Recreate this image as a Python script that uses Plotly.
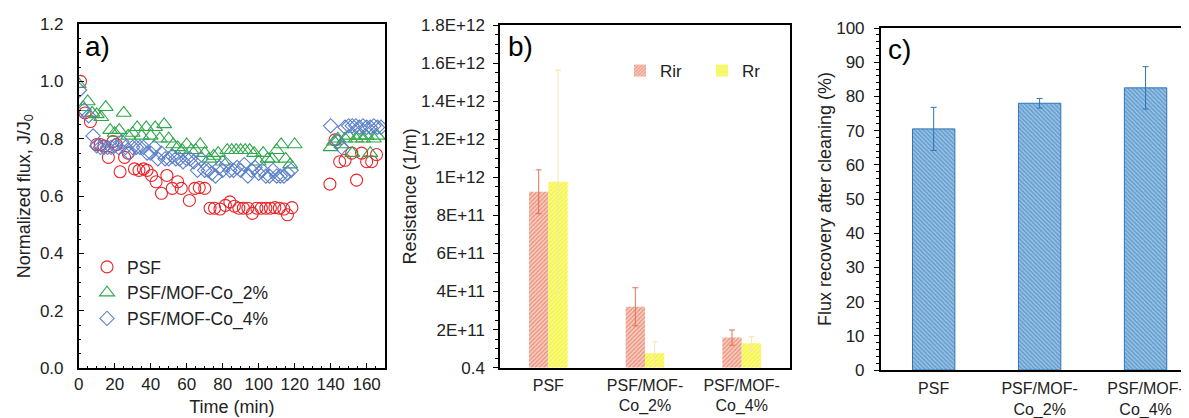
import plotly.graph_objects as go

# ---------------- Panel a data ----------------
psf_t = [1, 3.5, 6.5, 10, 12, 14, 16.5, 19, 21, 23, 25.5, 27.5, 31, 33.5, 36, 38, 40.5, 43, 46, 49, 52, 55, 57,
         61.5, 64.5, 67, 70, 73, 75.5, 78.5, 81.5, 84, 86.5, 89, 91.5, 94, 96.5, 99, 101.5, 104, 106.5, 109, 111.5,
         114, 116, 118.5,
         139.6, 142.4, 145, 148, 151.7, 154.4, 157.2, 160, 162.8, 165.5]
psf_v = [1.00, 0.89, 0.86, 0.78, 0.78, 0.775, 0.735, 0.79, 0.78, 0.685, 0.735, 0.75, 0.695, 0.69, 0.695, 0.69,
         0.672, 0.65, 0.61, 0.672, 0.627, 0.65, 0.627, 0.585, 0.627, 0.63, 0.627, 0.558, 0.558, 0.555, 0.568,
         0.58, 0.565, 0.558, 0.558, 0.558, 0.54, 0.558, 0.558, 0.558, 0.558, 0.56, 0.558, 0.555, 0.535, 0.56,
         0.642, 0.796, 0.72, 0.725, 0.75, 0.656, 0.75, 0.72, 0.72, 0.745]

co2_t = [0, 2.5, 5, 7.5, 10, 12.5, 15, 17.5, 20, 22.5, 25, 27.5, 30, 32.5, 35, 37.5, 40, 42.5, 45, 47.5, 50, 52.5,
         55, 57.5, 60, 62.5, 65, 67.5, 70, 72.5, 75, 77.5, 80, 82.5, 85, 87.5, 90, 92.5, 95, 97.5, 100, 102.5, 105,
         107.5, 110, 112.5, 115, 117.5, 120,
         140, 142, 144, 146, 148, 150, 152, 154, 156, 158, 160, 162, 164, 166]
co2_v = [0.99, 0.91, 0.93, 0.89, 0.885, 0.875, 0.91, 0.83, 0.82, 0.83, 0.89, 0.81, 0.82, 0.84, 0.81, 0.84, 0.81,
         0.84, 0.80, 0.85, 0.80, 0.78, 0.77, 0.76, 0.78, 0.76, 0.76, 0.78, 0.75, 0.73, 0.74, 0.75, 0.72, 0.76,
         0.76, 0.76, 0.76, 0.76, 0.76, 0.75, 0.72, 0.75, 0.73, 0.73, 0.76, 0.78, 0.73, 0.71, 0.78,
         0.77, 0.79, 0.80, 0.78, 0.80, 0.81, 0.75, 0.80, 0.81, 0.80, 0.81, 0.75, 0.80, 0.81]

co4_t = [0.5, 3, 5.5, 8, 10, 12, 14, 16, 18, 20, 22, 24, 26, 28, 30, 32, 34, 36, 38, 40, 42, 44, 46, 48, 50, 52, 54,
         56, 58, 60, 62, 64, 66, 68, 70, 72, 74, 76, 78, 80, 82, 84, 86, 88, 90, 92, 94, 96, 98, 100, 102, 104,
         106, 108, 110, 112, 114, 116, 118,
         140, 144, 146, 148, 150, 152, 154, 156, 158, 160, 162, 164, 166, 168]
co4_v = [0.97, 0.90, 0.88, 0.81, 0.775, 0.77, 0.77, 0.77, 0.77, 0.775, 0.77, 0.79, 0.77, 0.75, 0.77, 0.77, 0.77,
         0.77, 0.75, 0.75, 0.77, 0.73, 0.75, 0.73, 0.73, 0.74, 0.73, 0.73, 0.72, 0.73, 0.73, 0.72, 0.69, 0.73,
         0.69, 0.69, 0.68, 0.67, 0.70, 0.69, 0.71, 0.69, 0.69, 0.70, 0.69, 0.71, 0.67, 0.69, 0.70, 0.68, 0.69,
         0.67, 0.67, 0.69, 0.67, 0.67, 0.67, 0.68, 0.69,
         0.845, 0.79, 0.77, 0.84, 0.845, 0.845, 0.845, 0.84, 0.845, 0.84, 0.84, 0.845, 0.84, 0.84]

# ---------------- Panel b data ----------------
membranes = ["PSF", "PSF/MOF-<br>Co_2%", "PSF/MOF-<br>Co_4%"]
rir = [9.24e11, 3.2e11, 1.58e11]
rir_err = [1.15e11, 1.0e11, 4.0e10]
rr = [9.77e11, 7.6e10, 1.28e11]
rr_err = [5.86e11, 6.0e10, 3.5e10]
b_tickvals = [0, 2e11, 4e11, 6e11, 8e11, 1e12, 1.2e12, 1.4e12, 1.6e12, 1.8e12]
b_ticktext = ["0.4", "2E+11", "4E+11", "6E+11", "8E+11", "1E+12", "1.2E+12", "1.4E+12", "1.6E+12", "1.8E+12"]

# ---------------- Panel c data ----------------
frr = [70.5, 78.0, 82.5]
frr_err = [6.3, 1.4, 6.2]

FONT = "Liberation Sans, Arial, sans-serif"
W, H = 1189, 418
OFF = 8  # page body margin offset

fig = go.Figure()

fig.add_trace(go.Scatter(x=psf_t, y=psf_v, mode="markers", name="PSF",
                         marker=dict(symbol="circle-open", size=12, color="#E8242A", line=dict(width=1.1)),
                         xaxis="x", yaxis="y", legend="legend"))
fig.add_trace(go.Scatter(x=co2_t, y=co2_v, mode="markers", name="PSF/MOF-Co_2%",
                         marker=dict(symbol="triangle-up-open", size=13, color="#2EA84A", line=dict(width=1.1)),
                         xaxis="x", yaxis="y", legend="legend"))
fig.add_trace(go.Scatter(x=co4_t, y=co4_v, mode="markers", name="PSF/MOF-Co_4%",
                         marker=dict(symbol="diamond-open", size=11, color="#5B7FC8", line=dict(width=1.1)),
                         xaxis="x", yaxis="y", legend="legend"))

fig.add_trace(go.Bar(x=membranes, y=rir, name="Rir", xaxis="x2", yaxis="y2", legend="legend2",
                     marker=dict(color="#F2B4A4", line=dict(width=0),
                                 pattern=dict(shape="/", fgcolor="#E0603F", bgcolor="#F8D3C8", size=3, solidity=0.55)),
                     error_y=dict(type="data", array=rir_err, color="#E4705A", thickness=1, width=3)))
fig.add_trace(go.Bar(x=membranes, y=rr, name="Rr", xaxis="x2", yaxis="y2", legend="legend2",
                     marker=dict(color="#F7F56A", line=dict(width=0),
                                 pattern=dict(shape="/", fgcolor="#F0EE10", bgcolor="#FBFB8C", size=3, solidity=0.55)),
                     error_y=dict(type="data", array=rr_err, color="#F2E7B0", thickness=1, width=3)))

fig.add_trace(go.Bar(x=membranes, y=frr, name="FRR", xaxis="x3", yaxis="y3", showlegend=False,
                     marker=dict(color="#3C8BC6", line=dict(width=1, color="#2E75B6"),
                                 pattern=dict(shape="\\", fgcolor="#2A78BA", bgcolor="#A8CBE8", size=3, solidity=0.65)),
                     error_y=dict(type="data", array=frr_err, color="#2E75B6", thickness=1, width=3)))

tickfont = dict(family=FONT, size=17, color="#222")
cattickfont = dict(family=FONT, size=16, color="#222")
titlefont = dict(family=FONT, size=18, color="#222")

def px(x):
    return (x - OFF) / W

def py(y):
    return 1 - (y - OFF) / H

fig.update_layout(
    width=W, height=H,
    margin=dict(l=0, r=0, t=0, b=0, autoexpand=False),
    paper_bgcolor="white", plot_bgcolor="white",
    font=dict(family=FONT, color="#222"),
    barmode="group", bargap=0.6, bargroupgap=0,
    xaxis=dict(domain=[px(78.7), px(385)], range=[0, 170.2], tickvals=[0, 20, 40, 60, 80, 100, 120, 140, 160],
               ticks="inside", ticklen=6, tickwidth=1, tickcolor="black",
               minor=dict(dtick=5, ticks="inside", ticklen=3, tickcolor="black"),
               showline=True, linecolor="black", linewidth=1.5, mirror=True, showgrid=False, zeroline=False,
               tickfont=tickfont, ticklabelstandoff=0,
               title=dict(text="Time (min)", font=titlefont, standoff=7)),
    yaxis=dict(domain=[py(368.3), py(24)], range=[0, 1.2], dtick=0.2, tickformat=".1f",
               ticks="inside", ticklen=6, tickwidth=1, tickcolor="black",
               minor=dict(dtick=0.05, ticks="inside", ticklen=3, tickcolor="black"),
               showline=True, linecolor="black", linewidth=1.5, mirror=True, showgrid=False, zeroline=False,
               tickfont=tickfont, ticklabelstandoff=10,
               title=dict(text="Normalized flux, J/J<sub>0</sub>", font=titlefont, standoff=5)),
    xaxis2=dict(domain=[px(500), px(790)], range=[-0.5, 2.5], anchor="y2", type="category",
                ticks="", showline=True, linecolor="black", linewidth=1.5, mirror=True, showgrid=False,
                tickfont=cattickfont, ticklabelstandoff=2),
    yaxis2=dict(domain=[py(367.7), py(25)], range=[0, 1.8e12], anchor="x2",
                tickvals=b_tickvals, ticktext=b_ticktext,
                ticks="outside", ticklen=5, tickwidth=1, tickcolor="black",
                minor=dict(dtick=5e10, ticks="outside", ticklen=3, tickcolor="black"),
                showline=True, linecolor="black", linewidth=1.5, mirror=True, showgrid=False, zeroline=False,
                tickfont=tickfont, ticklabelstandoff=5,
                title=dict(text="Resistance (1/m)", font=titlefont, standoff=0)),
    xaxis3=dict(domain=[px(880.7), px(1189)], range=[-0.5, 2.41], anchor="y3", type="category",
                ticks="", showline=True, linecolor="black", linewidth=1.5, mirror=True, showgrid=False,
                tickfont=cattickfont, ticklabelstandoff=3),
    yaxis3=dict(domain=[py(370), py(28)], range=[0, 100], anchor="x3", dtick=10,
                ticks="outside", ticklen=5, tickwidth=1, tickcolor="black",
                minor=dict(dtick=2, ticks="outside", ticklen=3, tickcolor="black"),
                showline=True, linecolor="black", linewidth=1.5, mirror=False, showgrid=False, zeroline=False,
                tickfont=tickfont, ticklabelstandoff=6,
                title=dict(text="Flux recovery after cleaning (%)", font=titlefont, standoff=0)),
    legend=dict(x=px(87), y=py(249), xanchor="left", yanchor="top", bgcolor="rgba(0,0,0,0)",
                font=dict(family=FONT, size=17.5, color="#222"), itemwidth=30, tracegroupgap=0),
    legend2=dict(x=px(620), y=py(53), xanchor="left", yanchor="top", orientation="h", bgcolor="rgba(0,0,0,0)",
                 font=dict(family=FONT, size=17, color="#222"), itemwidth=30, entrywidth=37),
    annotations=[
        dict(text="a)", x=px(83), y=py(46), xref="paper", yref="paper", showarrow=False,
             xanchor="left", yanchor="middle", font=dict(family=FONT, size=28, color="black")),
        dict(text="b)", x=px(506), y=py(47), xref="paper", yref="paper", showarrow=False,
             xanchor="left", yanchor="middle", font=dict(family=FONT, size=28, color="black")),
        dict(text="c)", x=px(886), y=py(50), xref="paper", yref="paper", showarrow=False,
             xanchor="left", yanchor="middle", font=dict(family=FONT, size=28, color="black")),
    ],
)

fig.write_html("out.html")
